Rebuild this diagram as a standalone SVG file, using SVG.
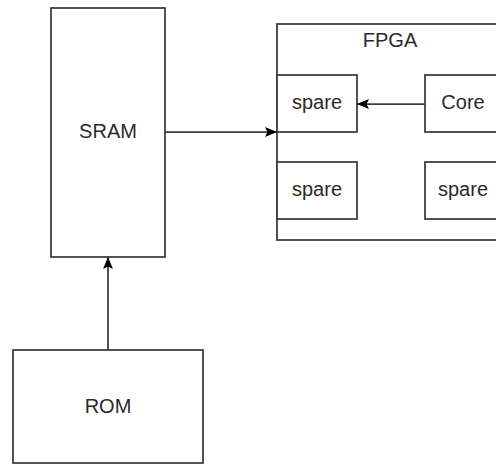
<svg xmlns="http://www.w3.org/2000/svg" width="496" height="465" viewBox="0 0 496 465">
  <style>
    .box { fill: #ffffff; stroke: #3c3c3c; stroke-width: 1.75; }
    .lbl { font-family: "Liberation Sans", Arial, sans-serif; font-size: 20px; fill: #2a2a2a; text-anchor: middle; dominant-baseline: central; }
    .wire { fill: none; stroke: #3c3c3c; stroke-width: 1.75; }
  </style>
  <defs>
    <!-- classic arrowhead, 12 long by 10 wide, in user units -->
    <marker id="arrow" viewBox="0 0 12 10" refX="12" refY="5" markerWidth="12" markerHeight="10" markerUnits="userSpaceOnUse" orient="auto">
      <path d="M0,0 L12,5 L0,10 L2.5,5 Z" fill="#000000"/>
    </marker>
  </defs>
  <rect width="496" height="465" fill="#ffffff"/>

  <g id="sram">
    <rect class="box" x="51" y="8" width="114" height="249"/>
    <text class="lbl" x="108" y="131">SRAM</text>
  </g>

  <g id="rom">
    <rect class="box" x="13" y="350" width="190" height="113"/>
    <text class="lbl" x="108" y="406">ROM</text>
  </g>

  <g id="fpga">
    <rect class="box" x="277" y="24" width="240" height="216"/>
    <text class="lbl" x="390" y="40">FPGA</text>
  </g>

  <g id="spare-top-left">
    <rect class="box" x="277" y="75" width="80" height="57"/>
    <text class="lbl" x="317" y="102">spare</text>
  </g>

  <g id="core">
    <rect class="box" x="425" y="75" width="78" height="57"/>
    <text class="lbl" x="463" y="102">Core</text>
  </g>

  <g id="spare-bottom-left">
    <rect class="box" x="277" y="162" width="80" height="57"/>
    <text class="lbl" x="317" y="189">spare</text>
  </g>

  <g id="spare-bottom-right">
    <rect class="box" x="425" y="162" width="78" height="57"/>
    <text class="lbl" x="463" y="189">spare</text>
  </g>

  <g id="connectors">
    <line class="wire" x1="165" y1="132" x2="277" y2="132" marker-end="url(#arrow)"/>
    <line class="wire" x1="425" y1="104" x2="357" y2="104" marker-end="url(#arrow)"/>
    <line class="wire" x1="108" y1="350" x2="108" y2="257" marker-end="url(#arrow)"/>
  </g>
</svg>
